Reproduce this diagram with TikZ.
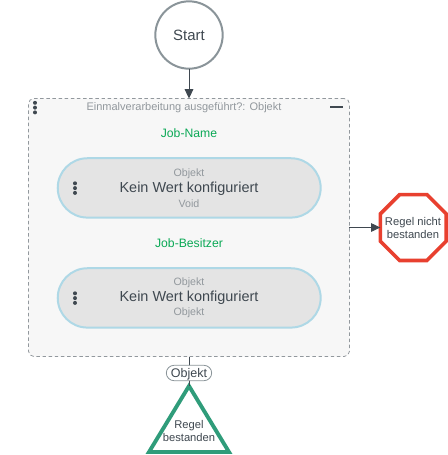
\documentclass[tikz,border=0pt]{standalone}
\usepackage{fontspec}
\setmainfont{Liberation Sans}
\usetikzlibrary{arrows.meta,shapes.geometric,shapes.misc}
\definecolor{ink}{HTML}{3F4850}
\definecolor{muted}{HTML}{92989D}
\definecolor{ringgray}{HTML}{8A9499}
\definecolor{jobgreen}{HTML}{0BA956}
\definecolor{pillblue}{HTML}{AED8E6}
\definecolor{pillfill}{HTML}{E4E4E4}
\definecolor{panelfill}{HTML}{F7F7F7}
\definecolor{passgreen}{HTML}{2F9C7A}
\definecolor{failred}{HTML}{E8402F}
\tikzset{
  x=0.75pt,y=-0.75pt,
  txt/.style={inner sep=0pt,outer sep=0pt,align=center,text=ink},
  small/.style={txt,text=muted,font=\fontsize{8}{10}\selectfont},
  head/.style={txt,text=jobgreen,font=\fontsize{9.15}{11}\selectfont},
  big/.style={txt,font=\fontsize{10.85}{13}\selectfont},
  pill/.style={rounded rectangle,draw=pillblue,fill=pillfill,line width=1.5pt,minimum width=197.2pt,minimum height=44.5pt,inner sep=0pt,outer sep=0pt},
  dot/.style={circle,fill=ink,inner sep=0pt,outer sep=0pt,minimum size=3pt},
  conn/.style={draw=ink,line width=0.7pt},
  tip/.style={-{Triangle[length=7pt,width=6.5pt,color=ink]}},
}
\begin{document}
\begin{tikzpicture}
\useasboundingbox (0,0) rectangle (448,455);
% start
\node[circle,draw=ringgray,line width=1.5pt,fill=white,minimum size=50.5pt,inner sep=0pt,outer sep=0.75pt,txt,text=ink,font=\fontsize{11.2}{13}\selectfont] (start) at (189,35) {Start};
% panel
\node[draw=muted,dashed,dash pattern=on 2.6pt off 2pt,line width=0.6pt,fill=panelfill,rounded corners=4pt,minimum width=240.75pt,minimum height=193.5pt,inner sep=0pt,outer sep=0pt] (panel) at (189,227.5) {};
\node[small,font=\fontsize{8.25}{10}\selectfont] (title) at (184,107.5) {Einmalverarbeitung ausgeführt?: Objekt};
\node[dot] (pd1) at (35,102.8) {};
\node[dot] (pd2) at (35,107.6) {};
\node[dot] (pd3) at (35,112.4) {};
\node[minimum width=9.5pt,minimum height=1.1pt,inner sep=0pt,outer sep=0pt,fill=ink] (minus) at (336.5,107) {};
% first pill
\node[head] (h1) at (189,133) {Job-Name};
\node[pill] (p1) at (189.2,187.9) {};
\node[small] (p1a) at (189,174) {Objekt};
\node[big] (p1b) at (189,189.2) {Kein Wert konfiguriert};
\node[small] (p1c) at (189,204) {Void};
\node[dot] (a1) at (75,183.3) {};
\node[dot] (a2) at (75,188.1) {};
\node[dot] (a3) at (75,192.9) {};
% second pill
\node[head] (h2) at (189,243) {Job-Besitzer};
\node[pill] (p2) at (189.2,297.9) {};
\node[small] (p2a) at (189,283) {Objekt};
\node[big] (p2b) at (189,298.2) {Kein Wert konfiguriert};
\node[small] (p2c) at (189,313) {Objekt};
\node[dot] (b1) at (75,293.3) {};
\node[dot] (b2) at (75,298.1) {};
\node[dot] (b3) at (75,302.9) {};
% octagon
\node[regular polygon,regular polygon sides=8,draw=failred,line width=2.7pt,fill=white,minimum size=53.5pt,inner sep=0pt,outer sep=0pt] (fail) at (413.3,227.5) {};
\node[txt,font=\fontsize{8.4}{10.1}\selectfont] (failt) at (413,228) {Regel nicht\\bestanden};
% triangle
\node[isosceles triangle,shape border rotate=90,isosceles triangle apex angle=64,isosceles triangle stretches,draw=passgreen,line width=2.9pt,fill=white,minimum width=60pt,minimum height=49.5pt,inner sep=0pt,outer sep=0pt,anchor=lower side] (pass) at (189,452) {};
\node[txt,font=\fontsize{8.4}{9.8}\selectfont] (passt) at (189,431) {Regel\\bestanden};
% connectors
\draw[conn,tip] (start) -- (panel.north);
\draw[conn,tip] (panel.east) -- (fail.west);
\draw[conn] (panel.south) -- (pass.apex);
\node[rounded rectangle,draw=ringgray,line width=0.6pt,fill=white,minimum width=34pt,minimum height=11.5pt,inner sep=0pt,outer sep=0pt,text=ink,font=\fontsize{9.4}{11}\selectfont,text depth=0pt] (lab) at (189,373) {Objekt};
\end{tikzpicture}
\end{document}
